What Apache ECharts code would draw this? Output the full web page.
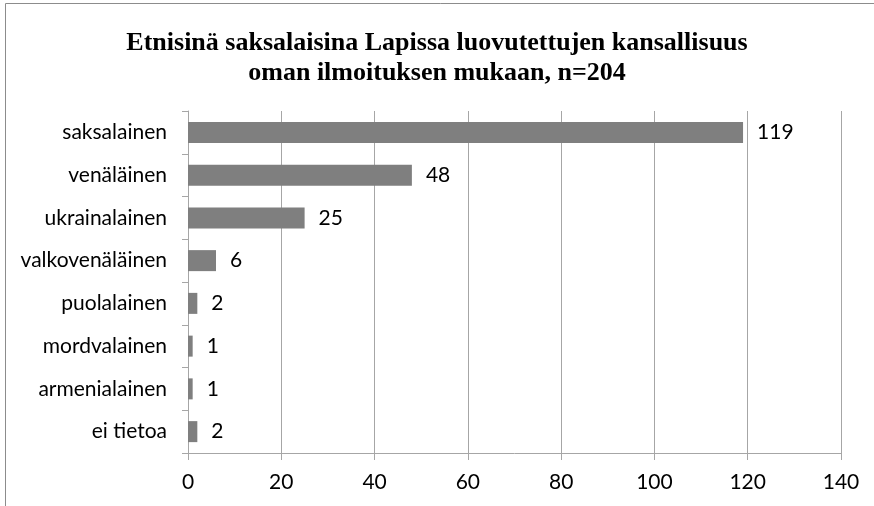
<!DOCTYPE html>
<html><head><meta charset="utf-8">
<script src="https://cdn.jsdelivr.net/npm/echarts@6/dist/echarts.min.js"></script>
<style>html,body{margin:0;padding:0;background:#fff}#c{width:874px;height:506px}</style>
</head><body><div id="c"></div>
<script>
const categories = ["saksalainen","venäläinen","ukrainalainen","valkovenäläinen","puolalainen","mordvalainen","armenialainen","ei tietoa"];
const values = [119,48,25,6,2,1,1,2];
const xTicks = [0,20,40,60,80,100,120,140];
const titleText = "Etnisinä saksalaisina Lapissa luovutettujen kansallisuus\noman ilmoituksen mukaan, n=204";

const chart = echarts.init(document.getElementById('c'), null, {renderer:'canvas'});
const font = "Lato, 'Open Sans', sans-serif";
chart.setOption({
  animation:false,
  graphic:[{type:'rect',shape:{x:5.5,y:3.5,width:880,height:520},style:{fill:'none',stroke:'#8c8c8c',lineWidth:1},silent:true}],
  title:{text:titleText,left:'center',top:23,textStyle:{fontFamily:"'Liberation Serif', serif",fontWeight:'bold',fontSize:26,lineHeight:30,color:'#000'}},
  grid:{left:188,right:33,top:111,bottom:53,containLabel:false},
  xAxis:{type:'value',min:0,max:140,interval:20,
    axisLine:{show:true,lineStyle:{color:'#a6a6a6'}},
    axisTick:{show:true,length:7,lineStyle:{color:'#a6a6a6'}},
    splitLine:{show:true,lineStyle:{color:'#a6a6a6'}},
    axisLabel:{margin:19,fontFamily:font,fontSize:21,color:'#000',formatter:v=>xTicks.includes(v)?String(v):''}},
  yAxis:{type:'category',data:categories,inverse:true,
    axisLine:{show:true,lineStyle:{color:'#a6a6a6'}},
    axisTick:{show:true,length:6,lineStyle:{color:'#a6a6a6'}},
    axisLabel:{margin:21,fontFamily:font,fontSize:21,color:'#000'}},
  series:[{type:'bar',data:values,barWidth:21,
    itemStyle:{color:'#7f7f7f'},
    label:{show:true,position:'right',distance:14,fontFamily:font,fontSize:21,color:'#000'}}]
});
</script></body></html>
